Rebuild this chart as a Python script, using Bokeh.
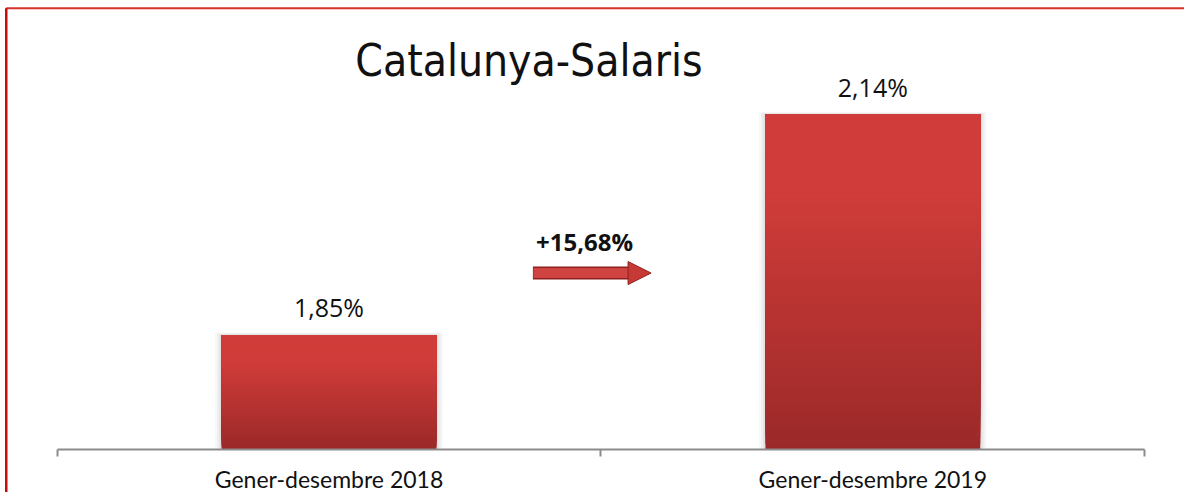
from bokeh.plotting import figure
from bokeh.models import Range1d, LinearAxis, FixedTicker, Arrow, NormalHead
from bokeh.core.properties import value
from bokeh.embed import file_html
from bokeh.resources import INLINE

# ---- data ----
categories = ["Gener-desembre 2018", "Gener-desembre 2019"]
positions = [0.5, 1.5]
values = [1.85, 2.14]
title_text = "Catalunya-Salaris"
axis_min = 1.7

def fmt(v):
    return f"{v:.2f}".replace(".", ",") + "%"

value_labels = [fmt(v) for v in values]
change = (values[1] / values[0] - 1) * 100
change_label = "+" + f"{change:.2f}".replace(".", ",") + "%"

# ---- figure ----
W, H = 1184, 492
x0, x1 = -0.1041, 2.0731
y0, y1 = 1.6431, 2.2899
p = figure(width=W, height=H, output_backend="svg", toolbar_location=None,
           x_range=Range1d(x0, x1), y_range=Range1d(y0, y1),
           min_border=0, min_border_left=0, min_border_right=0,
           min_border_top=0, min_border_bottom=0, x_axis_type=None, y_axis_type=None)
p.grid.visible = False
p.outline_line_color = None
p.background_fill_color = "white"
p.border_fill_color = "white"

# frame border lines (top and left)
top_y = 2.2796
left_x = -0.0935
p.segment(x0=[left_x], y0=[top_y], x1=[x1], y1=[top_y], line_color="#d8302b", line_width=2)
p.segment(x0=[left_x], y0=[top_y], x1=[left_x], y1=[y0], line_color="#c80a0a", line_width=2.5)

bar_w = 0.395
# soft shadow
for k, a in [(0.012, 0.04), (0.008, 0.06), (0.004, 0.08)]:
    p.quad(left=[x - bar_w / 2 - k for x in positions], right=[x + bar_w / 2 + k for x in positions],
           bottom=[axis_min] * 2, top=[v + k * 0.3 for v in values],
           fill_color="#555555", fill_alpha=a, line_color=None)

# gradient bars: overlapping slices drawn bottom-up
top_c = (207, 60, 57)
bot_c = (155, 41, 41)
N = 60
L, R, B, T, C = [], [], [], [], []
for x, v in zip(positions, values):
    h = v - axis_min
    for i in range(N):
        b = axis_min + h * i / N
        frac_from_top = 1 - (i + 0.5) / N
        s = 0 if frac_from_top < 0.25 else (frac_from_top - 0.25) / 0.75
        c = tuple(int(round(top_c[j] + (bot_c[j] - top_c[j]) * s)) for j in range(3))
        L.append(x - bar_w / 2); R.append(x + bar_w / 2)
        B.append(b); T.append(v)
        C.append("#%02x%02x%02x" % c)
p.quad(left=L, right=R, bottom=B, top=T, fill_color=C, line_color=None)

# value labels
p.text(x=positions, y=values, text=value_labels, text_align="center", text_baseline="bottom",
       y_offset=-11, text_font=value("Open Sans"), text_font_size="25px", text_color="#111111")

# axis at the bar base
ax = LinearAxis(fixed_location=axis_min, bounds=(0, 2),
                ticker=FixedTicker(ticks=positions, minor_ticks=[0, 1, 2]))
ax.major_label_overrides = {pos: cat for pos, cat in zip(positions, categories)}
ax.major_tick_line_color = None
ax.major_tick_out = 0
ax.major_tick_in = 0
ax.minor_tick_out = 7
ax.minor_tick_in = 0
ax.minor_tick_line_color = "#8c8c8c"
ax.minor_tick_line_width = 2
ax.axis_line_color = "#8c8c8c"
ax.axis_line_width = 2
ax.major_label_standoff = 9
ax.major_label_text_font = "Lato"
ax.major_label_text_font_size = "23px"
ax.major_label_text_color = "#111111"
p.add_layout(ax, "below")

# change arrow between the bars
arrow_y = 1.9316
shaft_x0, head_x0, tip_x = 0.8749, 1.0594, 1.0922
p.segment(x0=[shaft_x0], y0=[arrow_y], x1=[head_x0 + 0.002], y1=[arrow_y],
          line_color="#8e2020", line_width=13)
p.segment(x0=[shaft_x0 + 0.001], y0=[arrow_y], x1=[head_x0 + 0.002], y1=[arrow_y],
          line_color="#cf4440", line_width=10)
p.add_layout(Arrow(x_start=head_x0, y_start=arrow_y, x_end=tip_x, y_end=arrow_y,
                   line_alpha=0,
                   end=NormalHead(size=23, fill_color="#c63a36", line_color="#8e2020", line_width=1)))
p.text(x=[0.9699], y=[arrow_y], text=[change_label], text_align="center",
       text_baseline="bottom", y_offset=-15, text_font=value("Open Sans"),
       text_font_style="bold", text_font_size="24px", text_color="#111111")

# title
p.text(x=[0.8676], y=[2.1903], text=[title_text], text_align="center",
       text_baseline="bottom", y_offset=10, text_font=value("DejaVu Sans Condensed"),
       text_font_size="44px", text_color="#111111")

open("out.html", "w").write(file_html(p, INLINE))
